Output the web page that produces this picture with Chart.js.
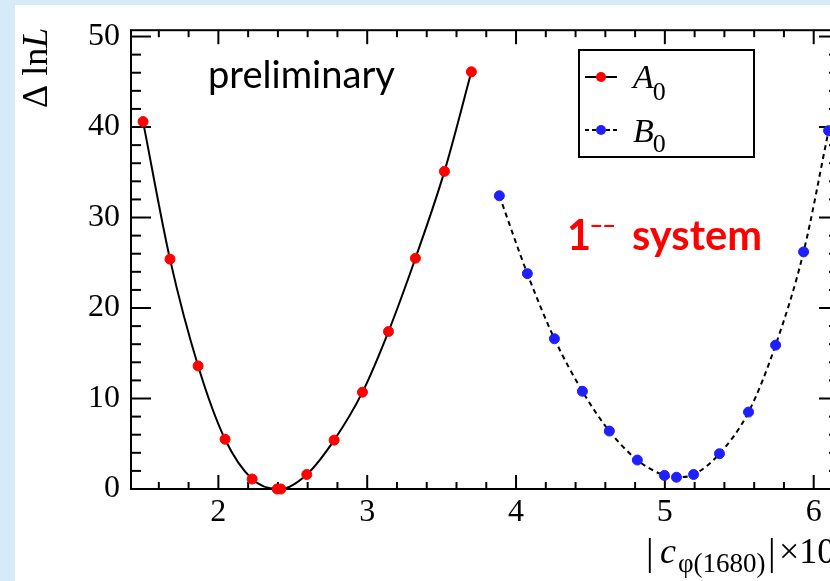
<!DOCTYPE html>
<html lang="en">
<head>
<meta charset="UTF-8">
<title>Delta lnL scan</title>
<script src="https://cdn.jsdelivr.net/npm/chart.js"></script>
<style>
  html, body { margin: 0; padding: 0; overflow: hidden; background: #d6eaf8; }
  #scan { position: absolute; left: 0; top: 0; }
</style>
</head>
<body>
<canvas id="scan" width="845" height="581"></canvas>
<script>
// A0 scan points (red, solid)
const aX = [1.494, 1.675, 1.864, 2.045, 2.227, 2.395, 2.42, 2.594, 2.778, 2.968, 3.143, 3.324, 3.519, 3.70];
const aY = [40.6, 25.4, 13.6, 5.5, 1.1, 0.0, 0.0, 1.6, 5.4, 10.7, 17.4, 25.5, 35.1, 46.1];
// B0 scan points (blue, dashed)
const bX = [3.888, 4.076, 4.258, 4.446, 4.627, 4.815, 4.997, 5.078, 5.193, 5.367, 5.562, 5.744, 5.932, 6.10];
const bY = [32.4, 23.8, 16.6, 10.8, 6.4, 3.2, 1.5, 1.3, 1.6, 3.9, 8.5, 15.9, 26.2, 39.6];

const xTicks = [2, 3, 4, 5, 6];
const yTicks = [0, 10, 20, 30, 40, 50];
const xMinorStep = 0.2;
const yMinorStep = 2;

const serif = '"Liberation Serif", "DejaVu Serif", serif';
const sans = 'Lato, "Open Sans", sans-serif';

function line(c, x1, y1, x2, y2) {
    c.beginPath(); c.moveTo(x1, y1); c.lineTo(x2, y2); c.stroke();
}

// size a font so that txt gets the wanted width
function fitSize(c, txt, font, width) {
    c.font = font.replace('SIZE', '100px');
    return 100 * width / c.measureText(txt).width;
}

const framePlugin = {
    id: 'frame',
    beforeDraw(chart) {
        const c = chart.ctx;
        c.save();
        c.fillStyle = '#d6eaf8';
        c.fillRect(0, 0, chart.width, chart.height);
        c.fillStyle = '#ffffff';
        c.fillRect(15, 5, chart.width - 15, chart.height - 5);
        c.restore();
    },
    beforeDatasetsDraw(chart) {
        const c = chart.ctx;
        const {left, right, top, bottom} = chart.chartArea;
        const xs = chart.scales.x, ys = chart.scales.y;
        c.save();
        c.strokeStyle = '#000';
        c.lineWidth = 2;
        c.strokeRect(left, top, right - left, bottom - top);
        // x ticks, pointing inward top and bottom
        const x0 = Math.ceil(xs.min / xMinorStep);
        for (let i = x0; i * xMinorStep <= xs.max; i++) {
            const px = xs.getPixelForValue(i * xMinorStep);
            const len = (i % 5 === 0) ? 14 : 7;
            line(c, px, bottom, px, bottom - len);
            line(c, px, top, px, top + len);
        }
        // y ticks, left and right
        for (let i = 1; i * yMinorStep <= ys.max; i++) {
            const py = ys.getPixelForValue(i * yMinorStep);
            const len = (i % 5 === 0) ? 20 : 10;
            line(c, left, py, left + len, py);
            line(c, right, py, right - len, py);
        }
        c.restore();
    },
    afterDraw(chart) {
        const c = chart.ctx;
        c.save();
        c.textBaseline = 'alphabetic';
        c.textAlign = 'left';

        // "preliminary"
        c.fillStyle = '#000';
        let s = fitSize(c, 'preliminary', 'SIZE ' + sans, 187);
        c.font = s + 'px ' + sans;
        c.fillText('preliminary', 208, 88);

        // "1-- system"
        c.fillStyle = '#ff0000';
        s = fitSize(c, 'system', 'bold SIZE ' + sans, 130);
        c.font = 'bold ' + s + 'px ' + sans;
        c.fillText('1', 567, 250);
        c.fillText('system', 632, 250);
        c.font = 'bold 22px ' + sans;
        c.textBaseline = 'middle';
        c.fillText('\u2212\u2212', 590, 227);
        c.textBaseline = 'alphabetic';

        // legend box
        c.strokeStyle = '#000';
        c.lineWidth = 2;
        c.strokeRect(579, 50, 175, 107);
        line(c, 585, 77, 617, 77);
        c.setLineDash([4, 3]);
        line(c, 585, 130, 617, 130);
        c.setLineDash([]);
        c.fillStyle = '#ff0000';
        c.beginPath(); c.arc(601, 77, 5, 0, Math.PI * 2); c.fill();
        c.fillStyle = '#1f1fff';
        c.beginPath(); c.arc(601, 130, 5, 0, Math.PI * 2); c.fill();
        c.fillStyle = '#000';
        c.font = 'italic 34px ' + serif;
        c.fillText('A', 633, 88);
        const wA = c.measureText('A').width;
        c.fillText('B', 633, 142);
        const wB = c.measureText('B').width;
        c.font = '26px ' + serif;
        c.fillText('0', 633 + wA - 1, 100);
        c.fillText('0', 633 + wB - 1, 152);

        // y title, rotated
        c.save();
        c.translate(47, 108);
        c.rotate(-Math.PI / 2);
        c.font = '36px ' + serif;
        c.fillText('\u0394 ln', 0, 0);
        const w = c.measureText('\u0394 ln').width;
        c.font = 'italic 36px ' + serif;
        c.fillText('L', w, 0);
        c.restore();

        // x title
        c.font = '38px ' + serif;
        c.fillText('|', 646, 565);
        c.fillText('|', 768, 565);
        c.font = 'italic 36px ' + serif;
        c.fillText('c', 660, 563);
        c.font = '27px ' + serif;
        c.fillText('\u03c6(1680)', 678, 572);
        c.font = '36px ' + serif;
        c.fillText('\u00d710', 779, 563);
        c.restore();
    }
};

const tickFont = {family: serif, size: 32};

new Chart(document.getElementById('scan'), {
    type: 'scatter',
    data: {
        datasets: [{
            label: 'A0',
            data: aX.map((x, i) => ({x: x, y: aY[i]})),
            showLine: true,
            borderColor: '#000',
            borderWidth: 2,
            cubicInterpolationMode: 'monotone',
            pointRadius: 5,
            pointBackgroundColor: '#ff0000',
            pointBorderColor: '#ff0000',
            pointBorderWidth: 1,
            clip: false
        }, {
            label: 'B0',
            data: bX.map((x, i) => ({x: x, y: bY[i]})),
            showLine: true,
            borderColor: '#000',
            borderWidth: 2,
            borderDash: [5, 4],
            cubicInterpolationMode: 'monotone',
            pointRadius: 5,
            pointBackgroundColor: '#1f1fff',
            pointBorderColor: '#1f1fff',
            pointBorderWidth: 1,
            clip: false
        }]
    },
    options: {
        responsive: false,
        animation: false,
        layout: {padding: {left: 0, top: 20, right: 5, bottom: 0}},
        plugins: {legend: {display: false}, tooltip: {enabled: false}},
        scales: {
            x: {
                type: 'linear',
                min: 1.413,
                max: 6.17,
                afterBuildTicks: s => { s.ticks = xTicks.map(v => ({value: v})); },
                afterFit: s => { s.height = 92; },
                grid: {display: false, drawTicks: false},
                border: {display: false},
                ticks: {font: tickFont, color: '#000', padding: 4, maxRotation: 0, autoSkip: false}
            },
            y: {
                type: 'linear',
                min: 0,
                max: 50.7,
                afterBuildTicks: s => { s.ticks = yTicks.map(v => ({value: v})); },
                afterFit: s => { s.width = 131; },
                grid: {display: false, drawTicks: false},
                border: {display: false},
                ticks: {font: tickFont, color: '#000', padding: 11, autoSkip: false}
            }
        }
    },
    plugins: [framePlugin]
});
</script>
</body>
</html>
